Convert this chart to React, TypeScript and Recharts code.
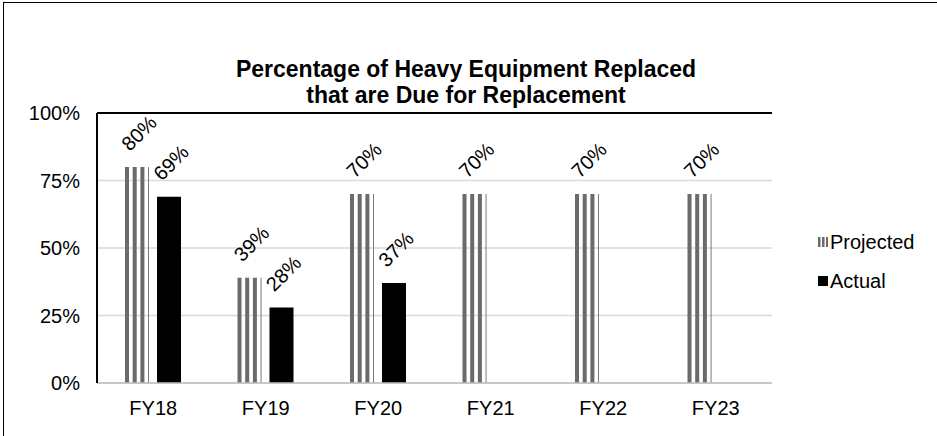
import { Bar, BarChart, CartesianGrid, LabelList, ReferenceLine, XAxis, YAxis } from 'recharts';

const years = ['FY18', 'FY19', 'FY20', 'FY21', 'FY22', 'FY23'];
const projected = [80, 39, 70, 70, 70, 70];
const actual: (number | null)[] = [69, 28, 37, null, null, null];
const yTicks = [0, 25, 50, 75, 100];

const data = years.map((year, i) => ({
  year,
  projected: projected[i],
  actual: actual[i],
}));

const FONT = '"Liberation Sans", Arial, sans-serif';
const STRIPE = '#6b6b6b';

// vertical stripes, like Excel's "dark vertical" pattern fill
const StripedBar = (props: any) => {
  const { x, y, width, height } = props;
  if (!height || height <= 0) return null;
  const stripes = [];
  for (let sx = 0; sx < width; sx += 7.7) {
    stripes.push(
      <rect key={sx} x={x + sx} y={y} width={Math.min(4, width - sx)} height={height} fill={STRIPE} />
    );
  }
  return <g>{stripes}</g>;
};

const SlantLabel = (props: any) => {
  const { x, y, width, value } = props;
  if (value == null) return null;
  const cx = x + width / 2 + 2;
  const cy = y - 34;
  return (
    <text
      x={cx}
      y={cy}
      textAnchor="middle"
      dominantBaseline="central"
      fontSize={20}
      fontFamily={FONT}
      fill="#000"
      transform={`rotate(-45 ${cx} ${cy})`}
    >
      {value}%
    </text>
  );
};

const LegendBox = () => (
  <div style={{ fontFamily: FONT, fontSize: 20, color: '#000' }}>
    <div style={{ display: 'flex', alignItems: 'center', height: 24, marginBottom: 15 }}>
      <svg width={10} height={10} style={{ marginRight: 2 }}>
        <rect x={0} y={0} width={2.5} height={10} fill={STRIPE} />
        <rect x={4} y={0} width={2.5} height={10} fill={STRIPE} />
        <rect x={8} y={0} width={2} height={10} fill={STRIPE} />
      </svg>
      Projected
    </div>
    <div style={{ display: 'flex', alignItems: 'center', height: 24 }}>
      <svg width={10} height={10} style={{ marginRight: 2 }}>
        <rect x={0} y={0} width={10} height={10} fill="#000" />
      </svg>
      Actual
    </div>
  </div>
);

export default function App() {
  return (
    <div
      style={{
        position: 'absolute',
        left: 0,
        top: 0,
        width: 937,
        height: 436,
        background: '#fff',
        overflow: 'hidden',
        fontFamily: FONT,
      }}
    >
      <div
        style={{
          position: 'absolute',
          left: 3,
          top: 2,
          width: 960,
          height: 460,
          borderLeft: '1.5px solid #000',
          borderTop: '1.5px solid #000',
        }}
      />
      <div
        style={{
          position: 'absolute',
          left: 0,
          width: 932,
          top: 56,
          textAlign: 'center',
          fontWeight: 'bold',
          fontSize: 23,
          lineHeight: '26px',
        }}
      >
        Percentage of Heavy Equipment Replaced
        <br />
        that are Due for Replacement
      </div>
      <BarChart
        width={937}
        height={436}
        data={data}
        margin={{ top: 113, right: 165, bottom: 23, left: 22 }}
        barSize={24}
        barGap={8}
        style={{ position: 'absolute', left: 0, top: 0 }}
      >
        <CartesianGrid vertical={false} stroke="#d9d9d9" strokeWidth={1.5} />
        <XAxis
          dataKey="year"
          height={30}
          tickLine={false}
          tickSize={0}
          tickMargin={18}
          axisLine={{ stroke: '#bfbfbf', strokeWidth: 1.5 }}
          tick={{ fill: '#000', fontSize: 20, fontFamily: FONT }}
        />
        <YAxis
          width={75}
          domain={[0, 100]}
          ticks={yTicks}
          tickFormatter={(t) => `${t}%`}
          tickLine={false}
          tickSize={0}
          tickMargin={17}
          axisLine={{ stroke: '#000', strokeWidth: 2 }}
          tick={{ fill: '#000', fontSize: 20, fontFamily: FONT }}
        />
        <ReferenceLine y={100} stroke="#000" strokeWidth={2} />
        <Bar dataKey="projected" name="Projected" shape={StripedBar} isAnimationActive={false}>
          <LabelList dataKey="projected" content={SlantLabel} />
        </Bar>
        <Bar dataKey="actual" name="Actual" fill="#000" isAnimationActive={false}>
          <LabelList dataKey="actual" content={SlantLabel} />
        </Bar>
      </BarChart>
      <div style={{ position: 'absolute', left: 818, top: 230 }}>
        <LegendBox />
      </div>
    </div>
  );
}
